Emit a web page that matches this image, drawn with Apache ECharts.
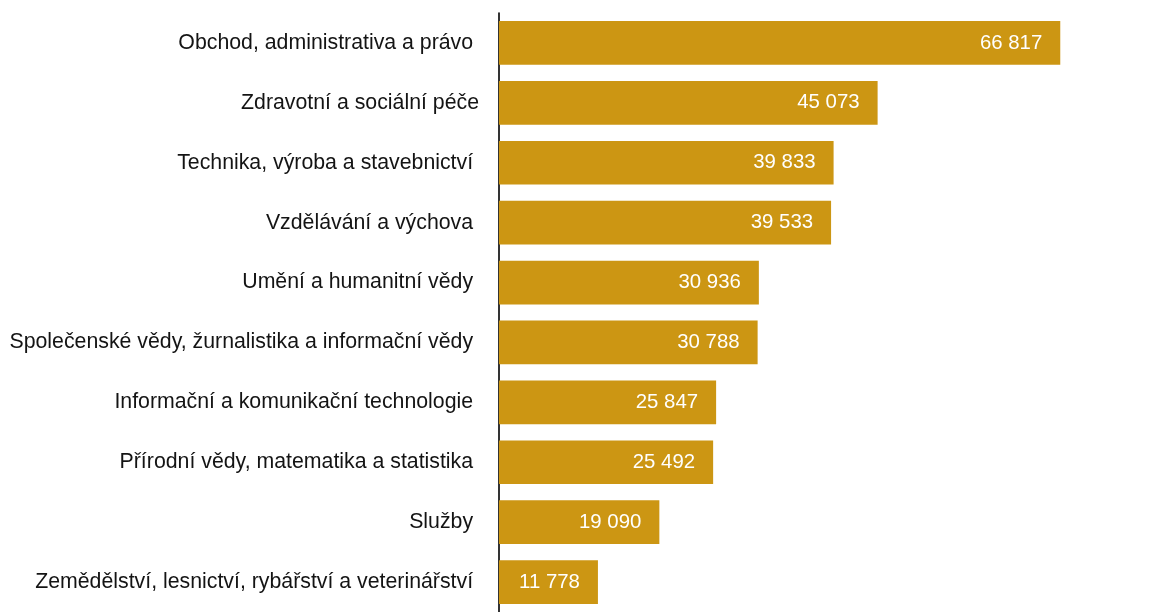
<!DOCTYPE html>
<html><head><meta charset="utf-8">
<script src="https://cdn.jsdelivr.net/npm/echarts@6/dist/echarts.min.js"></script>
<style>html,body{margin:0;padding:0;background:#fff}#c{width:1157px;height:612px}</style>
</head><body><div id="c"></div>
<script>
const categories = [
  "Obchod, administrativa a právo ",
  "Zdravotní a sociální péče",
  "Technika, výroba a stavebnictví ",
  "Vzdělávání a výchova ",
  "Umění a humanitní vědy ",
  "Společenské vědy, žurnalistika a informační vědy ",
  "Informační a komunikační technologie ",
  "Přírodní vědy, matematika a statistika ",
  "Služby ",
  "Zemědělství, lesnictví, rybářství a veterinářství "
];
const values = [66817, 45073, 39833, 39533, 30936, 30788, 25847, 25492, 19090, 11778];

const chart = echarts.init(document.getElementById('c'), null, {renderer: 'canvas'});
chart.setOption({
  animation: false,
  grid: {left: 499, right: 70, top: 13, bottom: -5, containLabel: false},
  xAxis: {
    type: 'value', min: 0, max: 70000,
    show: false
  },
  yAxis: {
    type: 'category', inverse: true, data: categories,
    axisLine: {show: true, lineStyle: {color: '#000', width: 1.6}},
    axisTick: {show: false},
    axisLabel: {color: '#141414', fontSize: 21.3, fontFamily: 'Liberation Sans, Arial, sans-serif', margin: 20, padding: [3, 0, 0, 0]}
  },
  series: [{
    type: 'bar', data: values,
    barCategoryGap: '27%',
    itemStyle: {color: '#CC9613'},
    label: {
      show: true, position: 'insideRight', distance: 18, padding: [3, 0, 0, 0],
      color: '#fff', fontSize: 20.4, fontFamily: 'Liberation Sans, Arial, sans-serif',
      formatter: p => String(p.value).replace(/\B(?=(\d{3})+(?!\d))/g, ' ')
    }
  }]
});
</script></body></html>
